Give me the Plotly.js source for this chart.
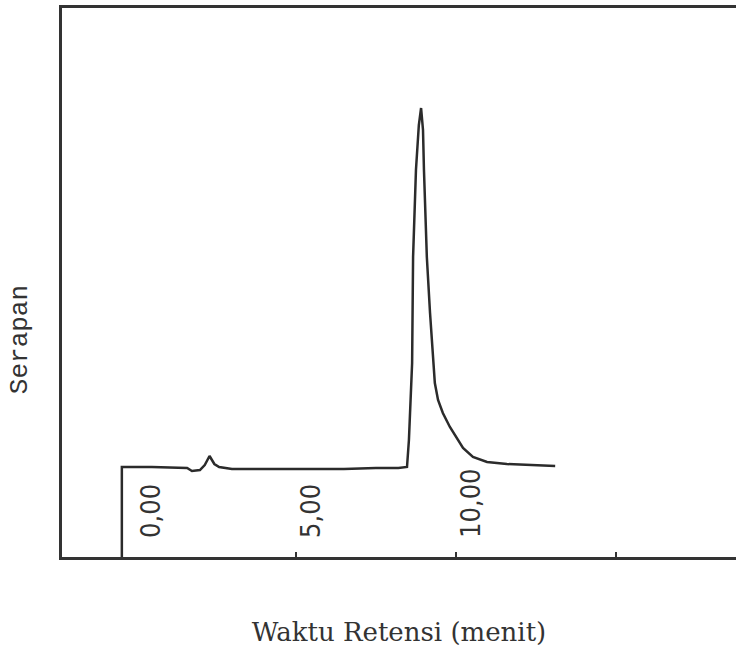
<!DOCTYPE html>
<html>
<head>
<meta charset="utf-8">
<script src="https://cdn.plot.ly/plotly-3.0.1.min.js"></script>
<style>
  html, body { margin: 0; padding: 0; background: #ffffff; }
  #chart { width: 736px; height: 656px; }
</style>
</head>
<body>
<div id="chart"></div>
<script>
// Retention time (minutes) and detector signal (absorbance, arbitrary units)
const retentionTime = [-0.44, -0.44, 0.5, 1.2, 1.6, 1.75, 2.0, 2.15, 2.3, 2.45, 2.6, 3.0, 3.5, 4.5, 5.5, 6.5, 7.5, 8.2,
  8.47, 8.53, 8.63, 8.66, 8.75, 8.84, 8.91, 8.97, 9.0, 9.09, 9.19, 9.29, 9.34, 9.44, 9.59, 9.81, 10.03, 10.22, 10.53,
  10.97, 11.59, 12.31, 12.84, 13.1];
const absorbance = [-0.90, 0, 0, -0.01, -0.01, -0.04, -0.03, 0.02, 0.11, 0.03, 0, -0.02, -0.02, -0.02, -0.02, -0.02, -0.01, -0.01,
  0, 0.27, 1.04, 2.10, 2.97, 3.42, 3.59, 3.37, 2.97, 2.10, 1.54, 1.07, 0.84, 0.67, 0.54, 0.40, 0.29, 0.19, 0.10,
  0.05, 0.03, 0.02, 0.01, 0.01];

// Axis ticks
const tickMarks = [5, 10, 15];
const labelValues = [0, 5, 10];
const labelTexts = ['0,00', '5,00', '10,00'];

const xRange = [-2.31, 18.75];
const yRange = [-0.90, 4.59];

const xTitle = 'Waktu Retensi (menit)';
const yTitle = 'Serapan';

const ink = '#333333';

const trace = {
  x: retentionTime,
  y: absorbance,
  type: 'scatter',
  mode: 'lines',
  line: { color: '#2b2b2b', width: 2.5 },
  hoverinfo: 'skip',
  showlegend: false
};

const annotations = labelValues.map((v, i) => ({
  x: v, xref: 'x',
  y: 0, yref: 'paper',
  text: labelTexts[i],
  textangle: -90,
  showarrow: false,
  xanchor: 'center', yanchor: 'bottom',
  xshift: 14, yshift: 17,
  font: { family: 'Liberation Sans Narrow, DejaVu Sans Condensed, sans-serif', size: 27, color: ink }
}));

// y-axis title, placed lower than the axis centre as in the original
annotations.push({
  x: 0, xref: 'paper', xanchor: 'center', xshift: -42,
  y: 0.395, yref: 'paper', yanchor: 'middle',
  text: yTitle, textangle: -90, showarrow: false,
  font: { family: 'Liberation Mono, Courier New, monospace', size: 26, color: ink }
});

const layout = {
  width: 736, height: 656,
  margin: { l: 62, r: 0, t: 8, b: 99 },
  paper_bgcolor: '#ffffff',
  plot_bgcolor: '#ffffff',
  showlegend: false,
  xaxis: {
    range: xRange,
    showgrid: false, zeroline: false,
    showline: true, mirror: true, linecolor: ink, linewidth: 3,
    tickmode: 'array', tickvals: tickMarks, ticks: 'inside', ticklen: 5, tickwidth: 2, tickcolor: ink,
    showticklabels: false,
    title: { text: xTitle, standoff: 64,
      font: { family: 'DejaVu Serif, Liberation Serif, serif', size: 26, color: ink } }
  },
  yaxis: {
    range: yRange,
    showgrid: false, zeroline: false,
    showline: true, mirror: false, linecolor: ink, linewidth: 3,
    ticks: '', showticklabels: false
  },
  annotations: annotations
};

Plotly.newPlot('chart', [trace], layout, { staticPlot: true, displayModeBar: false });
</script>
</body>
</html>
